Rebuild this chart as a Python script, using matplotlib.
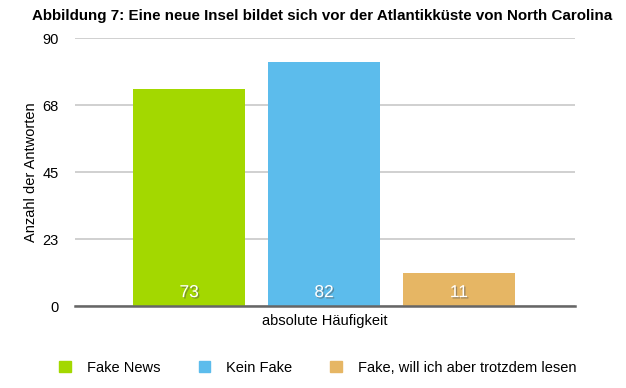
import matplotlib
matplotlib.use("Agg")
import matplotlib.pyplot as plt
import matplotlib.patheffects as pe
from matplotlib.patches import Patch

plt.rcParams['font.family'] = ['Liberation Sans', 'DejaVu Sans']

categories = ["Fake News", "Kein Fake", "Fake, will ich aber trotzdem lesen"]
values = [73, 82, 11]
colors = ["#a3d800", "#5cbcec", "#e6b664"]
yticks = [0, 22.5, 45, 67.5, 90]
ytick_labels = ["0", "23", "45", "68", "90"]

fig = plt.figure(figsize=(6.26, 3.88), dpi=100)
ax = fig.add_axes([0.12, 0.2113, 0.7985, 0.6907])

x = list(range(len(values)))
bars = ax.bar(x, values, width=0.83, color=colors, zorder=3)
for xi, v in zip(x, values):
	ax.text(xi, 4.5, str(v), ha="center", va="center", color="white", fontsize=12.5, zorder=4,
		path_effects=[pe.withSimplePatchShadow(offset=(1, -1), shadow_rgbFace="#555555", alpha=0.5)])

ax.set_xlim(-0.845, 2.86)
ax.set_ylim(0, 90)
ax.set_yticks(yticks)
ax.set_yticklabels(ytick_labels, fontsize=10.5)
ax.set_xticks([])
ax.tick_params(axis="y", length=0, pad=12)
ax.grid(axis="y", color="#d0d0d0", linewidth=1.4, zorder=0)
for s in ["top", "right", "left"]:
	ax.spines[s].set_visible(False)
ax.spines["bottom"].set_color("#666666")
ax.spines["bottom"].set_linewidth(1.8)
ax.spines["bottom"].set_zorder(5)

ax.set_ylabel("Anzahl der Antworten", fontsize=10.5, labelpad=3)
ax.set_xlabel("absolute Häufigkeit", fontsize=10.5, labelpad=6)

fig.text(0.515, 0.96, "Abbildung 7: Eine neue Insel bildet sich vor der Atlantikküste von North Carolina",
	ha="center", va="center", fontsize=10.9, fontweight="bold")

handles = [Patch(color=c, label=l) for c, l in zip(colors, categories)]
fig.legend(handles=handles, loc="center", bbox_to_anchor=(0.508, 0.052), ncol=3, frameon=False,
	fontsize=10.5, handlelength=0.8, handleheight=0.8, columnspacing=2.6, handletextpad=1.1)

fig.savefig("out.png", dpi=100)
